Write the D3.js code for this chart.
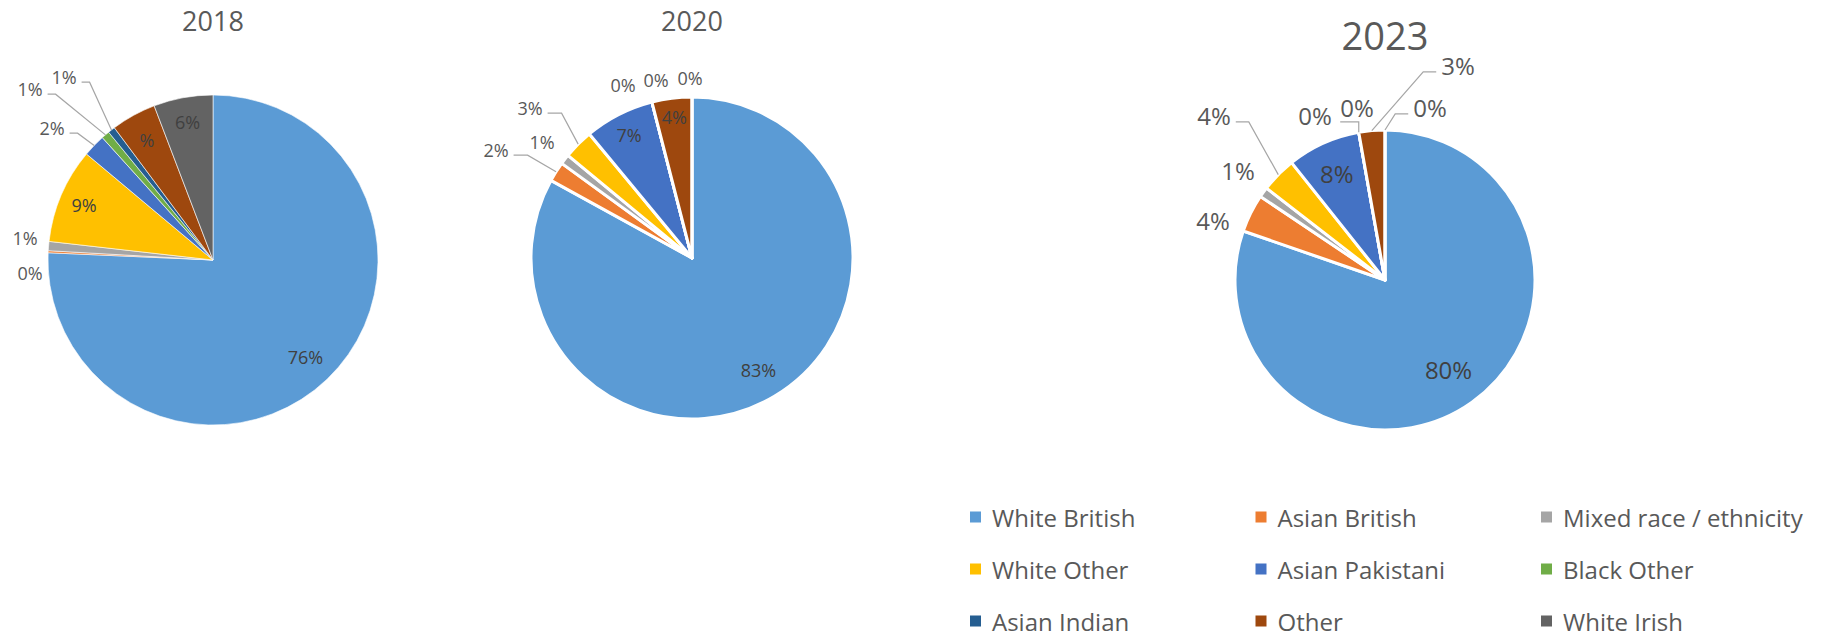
<!DOCTYPE html>
<html>
<head>
<meta charset="utf-8">
<script src="https://cdn.jsdelivr.net/npm/d3@7"></script>
<style>
  html, body { margin: 0; padding: 0; background: #fff; }
  svg { display: block; font-family: "Open Sans", "Noto Sans", sans-serif; }
</style>
</head>
<body>
<svg id="chart" width="1832" height="638"></svg>
<script>
// Ethnic composition by year, in the order slices run clockwise from 12 o'clock
const categories = [
  "White British", "Asian British", "Mixed race / ethnicity",
  "White Other", "Asian Pakistani", "Black Other",
  "Asian Indian", "Other", "White Irish"
];
const sliceColors = ["#5B9BD5", "#ED7D31", "#A5A5A5", "#FFC000", "#4472C4", "#70AD47", "#255E91", "#9E480E", "#636363"];
const years = ["2018", "2020", "2023"];

const share2018 = [75.7, 0.2, 0.9, 9.3, 2.2, 0.8, 0.7, 4.4, 5.8];
const share2020 = [83.0, 2.0, 1.0, 3.0, 7.0, 0, 0, 4.0, 0];
const share2023 = [80.3, 4.1, 1.1, 3.8, 7.9, 0, 0, 2.8, 0];

const labels2018 = ["76%", "0%", "1%", "9%", "2%", "1%", "1%", "%", "6%"];
const labels2020 = ["83%", "2%", "1%", "3%", "7%", "0%", "0%", "4%", "0%"];
const labels2023 = ["80%", "4%", "1%", "4%", "8%", "0%", "0%", "3%", "0%"];

// Layout of each pie: centre, radius, type sizes and where each data label sits
// (inside: fraction of radius along the slice mid-angle; at: offset from centre)
const panels = [
  {
    year: years[0], values: share2018, labels: labels2018,
    cx: 213, cy: 260, r: 165, titleY: 31, titleSize: 27, fs: 18, sep: 0.6, elbow: 8,
    place: [
      { inside: 0.81 }, { at: [-183, 13] }, { at: [-188, -22] },
      { inside: 0.85 }, { at: [-161, -132], leader: true }, { at: [-183, -171], leader: true },
      { at: [-149, -183], leader: true }, { inside: 0.83 }, { inside: 0.85 }
    ]
  },
  {
    year: years[1], values: share2020, labels: labels2020,
    cx: 692, cy: 258, r: 161, titleY: 31, titleSize: 27, fs: 18, sep: 3, elbow: 14,
    place: [
      { inside: 0.81 }, { at: [-196, -108], leader: true }, { at: [-150, -116] },
      { at: [-162, -150], leader: true }, { inside: 0.86 }, { at: [-69, -173] },
      { at: [-36, -178] }, { inside: 0.88 }, { at: [-2, -180] }
    ]
  },
  {
    year: years[2], values: share2023, labels: labels2023,
    cx: 1385, cy: 280, r: 150, titleY: 50, titleSize: 38, fs: 24, sep: 3, elbow: 13,
    place: [
      { inside: 0.73 }, { at: [-172, -60] }, { at: [-147, -110] },
      { at: [-171, -165], leader: true }, { inside: 0.78 }, { at: [-70, -165] },
      { at: [-28, -173], leader: true }, { at: [73, -215], leader: true }, { at: [45, -173], leader: true }
    ]
  }
];

const svg = d3.select("#chart");
const color = d3.scaleOrdinal(categories, sliceColors);
const pie = d3.pie().sort(null).value(d => d.value);

panels.forEach(p => {
  const rows = categories.map((c, i) => ({ cat: c, value: p.values[i], label: p.labels[i], place: p.place[i] }));
  const arcs = pie(rows);
  const arc = d3.arc().innerRadius(0).outerRadius(p.r);
  const g = svg.append("g").attr("transform", `translate(${p.cx},${p.cy})`);

  g.selectAll("path.slice")
    .data(arcs)
    .join("path")
    .attr("class", "slice")
    .attr("d", arc)
    .attr("fill", d => color(d.data.cat))
    .attr("stroke", "#fff")
    .attr("stroke-width", p.sep)
    .attr("stroke-linejoin", "round");

  svg.append("text")
    .attr("x", p.cx)
    .attr("y", p.titleY)
    .attr("text-anchor", "middle")
    .attr("font-size", p.titleSize)
    .attr("fill", "#595959")
    .text(p.year);

  const labelLayer = g.append("g");
  arcs.forEach(d => {
    const pl = d.data.place;
    const mid = (d.startAngle + d.endAngle) / 2;
    let x, y;
    if (pl.inside) {
      x = Math.sin(mid) * p.r * pl.inside;
      y = -Math.cos(mid) * p.r * pl.inside;
    } else {
      x = pl.at[0];
      y = pl.at[1];
    }
    const t = labelLayer.append("text")
      .attr("x", x)
      .attr("y", y)
      .attr("text-anchor", "middle")
      .attr("dominant-baseline", "central")
      .attr("font-size", p.fs)
      .attr("fill", pl.inside ? "#404040" : "#595959")
      .text(d.data.label);

    if (pl.leader) {
      const w = t.node().getComputedTextLength();
      const ax = Math.sin(mid) * p.r;
      const ay = -Math.cos(mid) * p.r;
      let pts;
      if (Math.abs(ax - x) < w / 2) {
        const ly = y + p.fs * 0.62;
        pts = [[x - w / 2, ly], [ax, ly], [ax, ay]];
      } else {
        const ly = y + p.fs * 0.29;
        const sx = ax > x ? x + w / 2 + 5 : x - w / 2 - 5;
        const ex = ax > x ? sx + p.elbow : sx - p.elbow;
        pts = [[sx, ly], [ex, ly], [ax, ay]];
      }
      labelLayer.append("path")
        .attr("d", d3.line()(pts))
        .attr("fill", "none")
        .attr("stroke", "#A6A6A6")
        .attr("stroke-width", 1.2);
    }
  });
});

// Legend: three columns, filled row by row
const legendCol = d3.scalePoint().domain([0, 1, 2]).range([970, 1541]);
const legendRow = d3.scalePoint().domain([0, 1, 2]).range([517, 621]);
const legend = svg.append("g");
const item = legend.selectAll("g.item")
  .data(categories)
  .join("g")
  .attr("class", "item")
  .attr("transform", (d, i) => `translate(${legendCol(i % 3)},${legendRow(Math.floor(i / 3))})`);
item.append("rect")
  .attr("x", 0).attr("y", -5.5)
  .attr("width", 11).attr("height", 11)
  .attr("fill", d => color(d));
item.append("text")
  .attr("x", 22)
  .attr("y", 0)
  .attr("dominant-baseline", "central")
  .attr("font-size", 24)
  .attr("fill", "#595959")
  .text(d => d);
</script>
</body>
</html>
